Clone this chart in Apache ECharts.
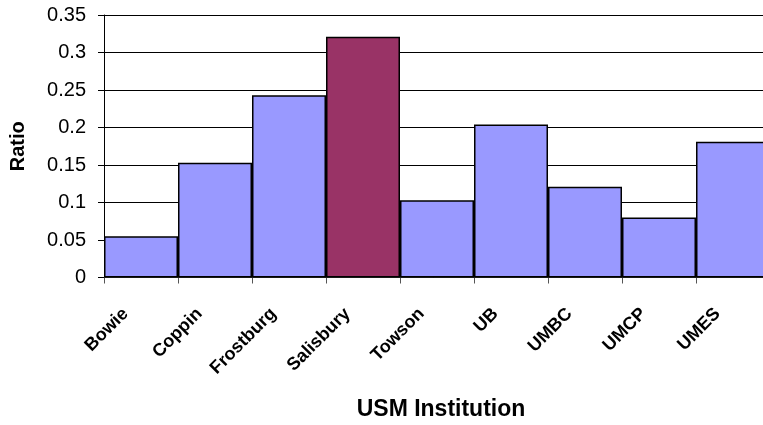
<!DOCTYPE html>
<html>
<head>
<meta charset="utf-8">
<script src="https://cdn.jsdelivr.net/npm/echarts@6/dist/echarts.min.js"></script>
<style>html,body{margin:0;padding:0;background:#fff;}#c{width:763px;height:425px;}</style>
</head>
<body>
<div id="c"></div>
<script>
const categories = ['Bowie','Coppin','Frostburg','Salisbury','Towson','UB','UMBC','UMCP','UMES'];
const ratios = [0.055, 0.153, 0.243, 0.321, 0.103, 0.204, 0.121, 0.080, 0.181];
const highlighted = 'Salisbury';
const yTicks = {min: 0, max: 0.35, interval: 0.05};

const chart = echarts.init(document.getElementById('c'), null, {renderer: 'canvas'});
const font = 'Liberation Sans, Arial, sans-serif';
chart.setOption({
  animation: false,
  backgroundColor: '#fff',
  grid: {left: 104, top: 15, width: 666, height: 262.5, containLabel: false, outerBoundsMode: 'none'},
  xAxis: {
    type: 'category',
    data: categories,
    name: 'USM Institution',
    nameLocation: 'middle',
    nameGap: 121,
    nameTextStyle: {fontFamily: font, fontWeight: 'bold', fontSize: 23, color: '#000', padding: [0, 0, 0, 8]},
    axisLine: {lineStyle: {color: '#333', width: 1}},
    axisTick: {show: true, alignWithLabel: false, length: 6, lineStyle: {color: '#555'}},
    axisLabel: {rotate: 45, interval: 0, margin: 18, padding: [0, 22, 0, 0], hideOverlap: false,
      fontFamily: font, fontWeight: 'bold', fontSize: 18, color: '#000'}
  },
  yAxis: {
    type: 'value',
    min: yTicks.min, max: yTicks.max, interval: yTicks.interval,
    name: 'Ratio',
    nameLocation: 'middle',
    nameGap: 76,
    nameTextStyle: {fontFamily: font, fontWeight: 'bold', fontSize: 20, color: '#000'},
    axisLine: {show: true, lineStyle: {color: '#000', width: 1}},
    axisTick: {show: true, length: 6, lineStyle: {color: '#000'}},
    axisLabel: {margin: 18, fontFamily: font, fontSize: 20, color: '#000',
      formatter: v => String(parseFloat(v.toFixed(2)))},
    splitLine: {show: true, lineStyle: {color: '#000', width: 1}}
  },
  series: [{
    type: 'bar',
    barCategoryGap: '0%',
    data: ratios.map((v, i) => ({
      value: v,
      itemStyle: {color: categories[i] === highlighted ? '#993366' : '#9999FF'}
    })),
    itemStyle: {borderColor: '#000', borderWidth: 1.5}
  }]
});
</script>
</body>
</html>
